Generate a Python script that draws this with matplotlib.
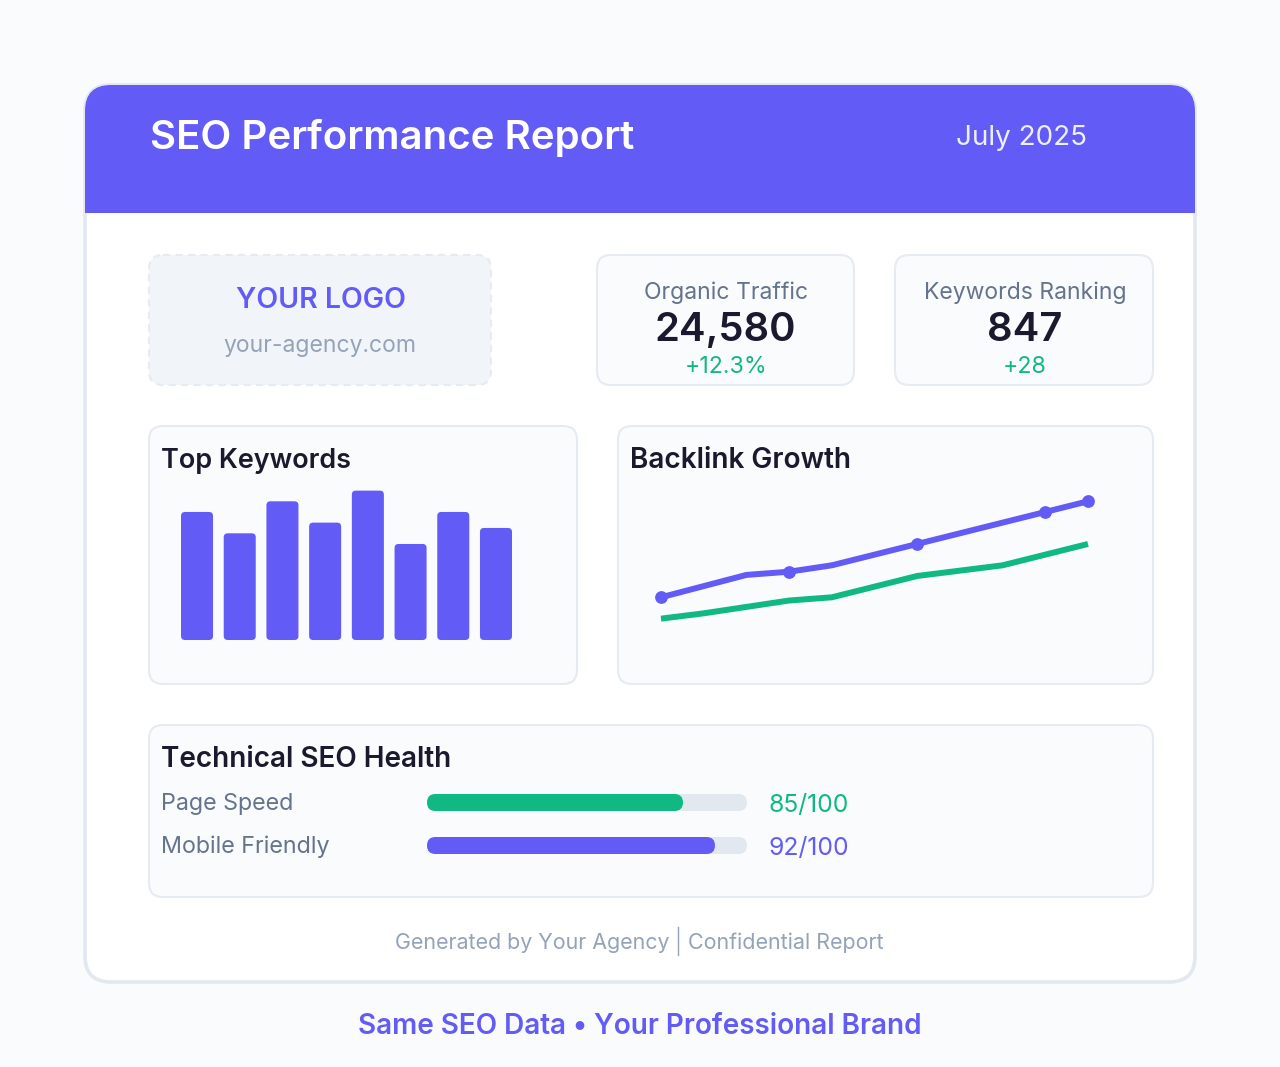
import matplotlib
matplotlib.use('Agg')
import matplotlib.pyplot as plt
from matplotlib.patches import FancyBboxPatch, Rectangle

plt.rcParams['font.family'] = ['Inter', 'DejaVu Sans']

W, H = 1280, 1067

INDIGO = '#635BF6'
GREEN = '#10B981'
DARK = '#1A1A2E'
SLATE = '#64748B'
LIGHT = '#94A3B8'
BORDER = '#E2E8F0'
SOFT_BORDER = '#E6EBF2'
PANEL = '#FAFBFD'

# chart data
keyword_values = [120, 100, 130, 110, 140, 90, 120, 105]

backlink_x = [0, 2, 3, 4, 6, 9, 10]
backlink_y = [40, 61, 64, 70, 90, 120, 130]
marker_x = [0, 3, 6, 9, 10]
marker_y = [40, 64, 90, 120, 130]
referring_x = [0, 1, 3, 4, 6, 7, 8, 10]
referring_y = [20, 25, 37, 40, 60, 65, 70, 90]

health_labels = ['Page Speed', 'Mobile Friendly']
health_fill = [80, 90]
health_scores = ['85/100', '92/100']
health_colors = [GREEN, INDIGO]

fig = plt.figure(figsize=(W / 100, H / 100), dpi=100, facecolor='#F9FBFD')
bg = fig.add_axes([0, 0, 1, 1])
bg.set_xlim(0, W)
bg.set_ylim(H, 0)
bg.axis('off')


def px_axes(x0, y0, x1, y1):
    ax = fig.add_axes([x0 / W, 1 - y1 / H, (x1 - x0) / W, (y1 - y0) / H])
    ax.axis('off')
    ax.patch.set_alpha(0)
    return ax


def round_box(ax, x0, y0, x1, y1, r, **kw):
    box = FancyBboxPatch((x0 + r, y0 + r), x1 - x0 - 2 * r, y1 - y0 - 2 * r,
                         boxstyle='round,pad=%f,rounding_size=%f' % (r, r), **kw)
    ax.add_patch(box)
    return box


def label(x, y, s, size, color, weight='normal', ha='left'):
    # size is in pixels, y is the baseline
    return bg.text(x, y - 1, s, fontsize=size * 0.72, color=color, fontweight=weight,
                   ha=ha, va='baseline')


def panel(x0, y0, x1, y1, r=14):
    round_box(bg, x0, y0, x1, y1, r, fc=PANEL, ec=SOFT_BORDER, lw=1.5)


# main card and header
round_box(bg, 85, 85, 1195, 982, 26, fc='white', ec=BORDER, lw=2.6, zorder=1)
clip = round_box(bg, 85, 85, 1195, 982, 26, fc='none', ec='none', zorder=0)
head = Rectangle((85, 85), 1110, 128, fc=INDIGO, ec='none', zorder=2)
bg.add_patch(head)
head.set_clip_path(clip)
for t in [label(150, 150, 'SEO Performance Report', 40.2, 'white', 'semibold'),
          label(1021, 146, 'July 2025', 27.8, '#EEF0FF', ha='center')]:
    t.set_zorder(3)

# logo placeholder
round_box(bg, 149, 255, 491, 385, 14, fc='#F1F5F9', ec=SOFT_BORDER, lw=1.5, ls=(0, (3.5, 2.5)), zorder=2)
label(321, 309, 'YOUR LOGO', 28.5, INDIGO, 'semibold', 'center').set_zorder(3)
label(320, 353, 'your-agency.com', 23, LIGHT, ha='center').set_zorder(3)

# stat cards
for x0, x1, name, big, delta, big_c in [(597, 854, 'Organic Traffic', '24,580', '+12.3%', 725),
                                        (895, 1153, 'Keywords Ranking', '847', '+28', 1025)]:
    panel(x0, 255, x1, 385)
    c = (x0 + x1) / 2 + 1
    label(c, 300, name, 23, SLATE, ha='center')
    label(big_c, 342, big, 40, DARK, 'semibold', 'center')
    label(c, 374, delta, 23.2, GREEN, ha='center')

# top keywords
panel(149, 426, 577, 684)
label(161, 469, 'Top Keywords', 27, DARK, 'semibold')
ax_bar = px_axes(181, 480, 512, 640)
ax_bar.set_xlim(-0.375, len(keyword_values) - 0.625)
ax_bar.set_ylim(0, 160 / 1.067)
bars = ax_bar.bar(range(len(keyword_values)), keyword_values, width=0.75, color='none')
for b in bars:
    # swap each bar for a rounded one of the same geometry
    ax_bar.add_patch(FancyBboxPatch((b.get_x(), 0), b.get_width(), b.get_height(),
                                    boxstyle='round,pad=0,rounding_size=0.094', fc=INDIGO, ec='none',
                                    mutation_aspect=40))
    b.remove()

# backlink growth
panel(618, 426, 1153, 684)
label(630, 469, 'Backlink Growth', 28, DARK, 'semibold')
ax_line = px_axes(661, 480, 1088, 640)
ax_line.set_xlim(0, 10)
ax_line.set_ylim(0, 160 / 1.067)
ax_line.plot(backlink_x, backlink_y, color=INDIGO, lw=4.3, solid_capstyle='butt', solid_joinstyle='round', clip_on=False)
ax_line.plot(referring_x, referring_y, color=GREEN, lw=4.3, solid_capstyle='butt', solid_joinstyle='round', clip_on=False)
ax_line.plot(marker_x, marker_y, 'o', color=INDIGO, ms=9.2, mec='none', clip_on=False)

# technical health
panel(149, 725, 1153, 897)
label(161, 768, 'Technical SEO Health', 27.9, DARK, 'semibold')
rows = [(794, 811, 811, 813), (837, 854, 854, 856)]
for i, (top, bottom, base_l, base_s) in enumerate(rows):
    label(161, base_l, health_labels[i], 23.3, SLATE)
    ax = px_axes(427, top, 747, bottom)
    ax.set_xlim(0, 100)
    ax.set_ylim(0, 1)
    r = 8.5 * 100 / 320
    ax.add_patch(FancyBboxPatch((0, 0), 100, 1, boxstyle='round,pad=0,rounding_size=%f' % r,
                                fc=BORDER, ec='none', mutation_aspect=320 / 100 / 17, clip_on=False))
    ax.add_patch(FancyBboxPatch((0, 0), health_fill[i], 1, boxstyle='round,pad=0,rounding_size=%f' % r,
                                fc=health_colors[i], ec='none', mutation_aspect=320 / 100 / 17, clip_on=False))
    label(769, base_s, health_scores[i], 24.7, health_colors[i])

# footer
label(395, 950, 'Generated by Your Agency', 21.4, LIGHT)
bg.plot([678, 678], [927, 955], color=LIGHT, lw=1)
label(688, 950, 'Confidential Report', 21.5, LIGHT)
label(640, 1035, 'Same SEO Data • Your Professional Brand', 27.9, INDIGO, 'semibold', 'center')

fig.savefig('out.png', dpi=100, facecolor=fig.get_facecolor())
